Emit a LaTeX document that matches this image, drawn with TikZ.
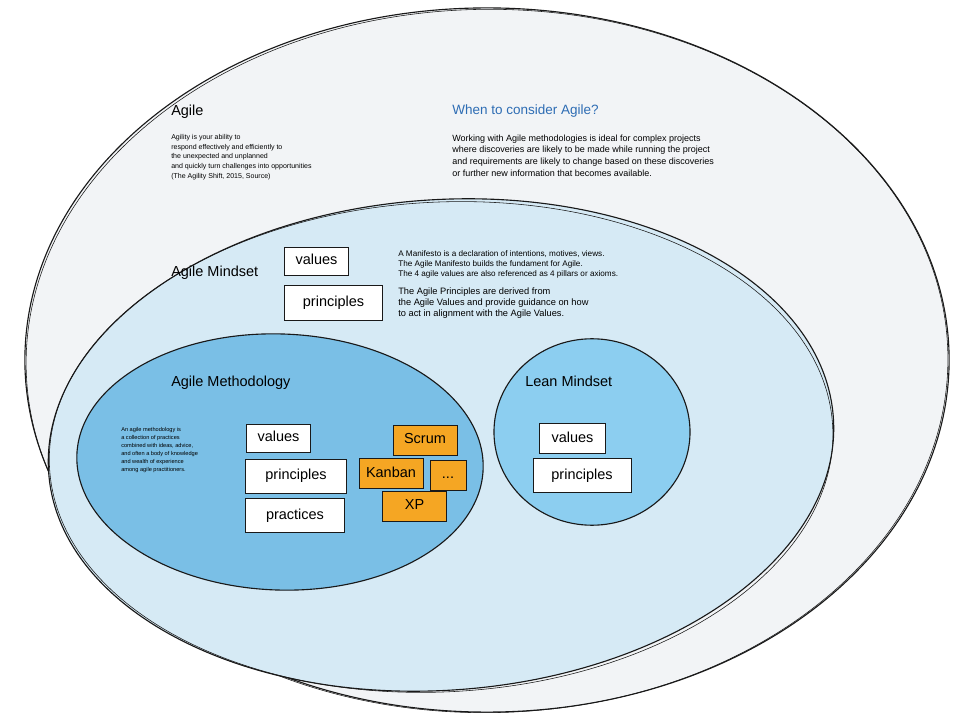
\documentclass[tikz,border=0pt]{standalone}
\usepackage{fontspec}
\setmainfont{Liberation Sans}
\usepackage{xcolor}
\definecolor{outergray}{RGB}{242, 244, 246}
\definecolor{mindsetblue}{RGB}{214, 234, 245}
\definecolor{methodblue}{RGB}{122, 191, 230}
\definecolor{leanblue}{RGB}{140, 206, 240}
\definecolor{frameworkorange}{RGB}{245, 166, 35}
\definecolor{titleblue}{RGB}{46, 109, 180}
\definecolor{inkblack}{RGB}{25, 25, 25}
\tikzset{
    % Scope ellipses
    scope ellipse/.style={
        draw=inkblack, line width=0.8pt
    },
    % Second pencil stroke
    sketch stroke/.style={
        draw=inkblack, line width=0.4pt
    },
    % White concept boxes
    concept box/.style={
        rectangle, draw=inkblack, line width=0.7pt, fill=white,
        inner sep=0pt, text height=0.72em, text depth=0.2em,
        font=\fontsize{10.3}{12}\selectfont
    },
    % Orange framework boxes
    framework box/.style={
        concept box, fill=frameworkorange
    },
    % Headings
    heading/.style={
        anchor=base west, inner sep=0pt, font=\fontsize{10.3}{12}\selectfont
    },
    % Explanations
    note/.style={
        anchor=north west, inner sep=0pt, align=left
    }
}

\begin{document}
\begin{tikzpicture}[x=0.025cm, y=-0.025cm]

    \useasboundingbox (0, 0) rectangle (960, 720);

    % ======== AGILE (OUTER) ========
    \fill[outergray] (487, 360) ellipse [x radius=11.55cm, y radius=8.8cm];
    \draw[scope ellipse] (487, 360) ellipse [x radius=11.55cm, y radius=8.8cm];
    \draw[sketch stroke, rotate around={0.6:(487, 360)}] (487, 361) ellipse [x radius=11.52cm, y radius=8.79cm];

    \node[heading] (agile) at (171, 116) {Agile};
    \node[note, font=\fontsize{5}{6.9}\selectfont] (agiledef) at (171, 134)
        {Agility is your ability to\\
         respond effectively and efficiently to\\
         the unexpected and unplanned\\
         and quickly turn challenges into opportunities\\
         (The Agility Shift, 2015, Source)};

    \node[heading, font=\fontsize{9.6}{12}\selectfont, titleblue] (when) at (452, 115) {When to consider Agile?};
    \node[note, font=\fontsize{6.4}{8.3}\selectfont] (whentext) at (452, 134.5)
        {Working with Agile methodologies is ideal for complex projects\\
         where discoveries are likely to be made while running the project\\
         and requirements are likely to change based on these discoveries\\
         or further new information that becomes available.};

    % ======== AGILE MINDSET ========
    \fill[mindsetblue, rotate around={4:(441, 445)}] (441, 445) ellipse [x radius=9.83cm, y radius=6.13cm];
    \draw[scope ellipse, rotate around={4:(441, 445)}] (441, 445) ellipse [x radius=9.83cm, y radius=6.13cm];
    \draw[sketch stroke, rotate around={3:(441, 445)}] (441, 447) ellipse [x radius=9.8cm, y radius=6.12cm];

    \node[heading] (mindset) at (171, 277) {Agile Mindset};
    \node[concept box, minimum width=1.58cm, minimum height=0.7cm] (mvalues) at (316.5, 261) {values};
    \node[concept box, minimum width=2.43cm, minimum height=0.85cm] (mprinciples) at (333.5, 303) {principles};

    \node[note, font=\fontsize{5.8}{7.1}\selectfont] (manifesto) at (398, 250.5)
        {A Manifesto is a declaration of intentions, motives, views.\\
         The Agile Manifesto builds the fundament for Agile.\\
         The 4 agile values are also referenced as 4 pillars or axioms.};
    \node[note, font=\fontsize{6.6}{8}\selectfont] (principlestext) at (398, 287)
        {The Agile Principles are derived from\\
         the Agile Values and provide guidance on how\\
         to act in alignment with the Agile Values.};

    % ======== AGILE METHODOLOGY ========
    \fill[methodblue, rotate around={-2:(280, 462)}] (280, 462) ellipse [x radius=5.08cm, y radius=3.2cm];
    \draw[scope ellipse, rotate around={-2:(280, 462)}] (280, 462) ellipse [x radius=5.08cm, y radius=3.2cm];

    \node[heading] (methodology) at (171, 387) {Agile Methodology};
    \node[note, font=\fontsize{4}{5.7}\selectfont] (methoddef) at (121, 427)
        {An agile methodology is\\
         a collection of practices\\
         combined with ideas, advice,\\
         and often a body of knowledge\\
         and wealth of experience\\
         among agile practitioners.};

    \node[concept box, minimum width=1.58cm, minimum height=0.7cm] (avalues) at (278.5, 438) {values};
    \node[concept box, minimum width=2.5cm, minimum height=0.85cm] (aprinciples) at (296, 476) {principles};
    \node[concept box, minimum width=2.45cm, minimum height=0.83cm] (apractices) at (295, 515.5) {practices};

    % Frameworks
    \node[framework box, minimum width=1.6cm, minimum height=0.75cm] (scrum) at (425, 440) {Scrum};
    \node[framework box, minimum width=1.6cm, minimum height=0.73cm] (kanban) at (391, 473.5) {Kanban};
    \node[framework box, minimum width=0.9cm, minimum height=0.75cm] (more) at (448, 475) {...};
    \node[framework box, minimum width=1.58cm, minimum height=0.75cm] (xp) at (414.5, 506) {XP};

    % ======== LEAN MINDSET ========
    \fill[leanblue] (592, 432) ellipse [x radius=2.45cm, y radius=2.33cm];
    \draw[scope ellipse] (592, 432) ellipse [x radius=2.45cm, y radius=2.33cm];

    \node[heading] (lean) at (525, 387) {Lean Mindset};
    \node[concept box, minimum width=1.63cm, minimum height=0.73cm] (lvalues) at (572.5, 438.5) {values};
    \node[concept box, minimum width=2.45cm, minimum height=0.83cm] (lprinciples) at (582, 475.5) {principles};

\end{tikzpicture}
\end{document}
